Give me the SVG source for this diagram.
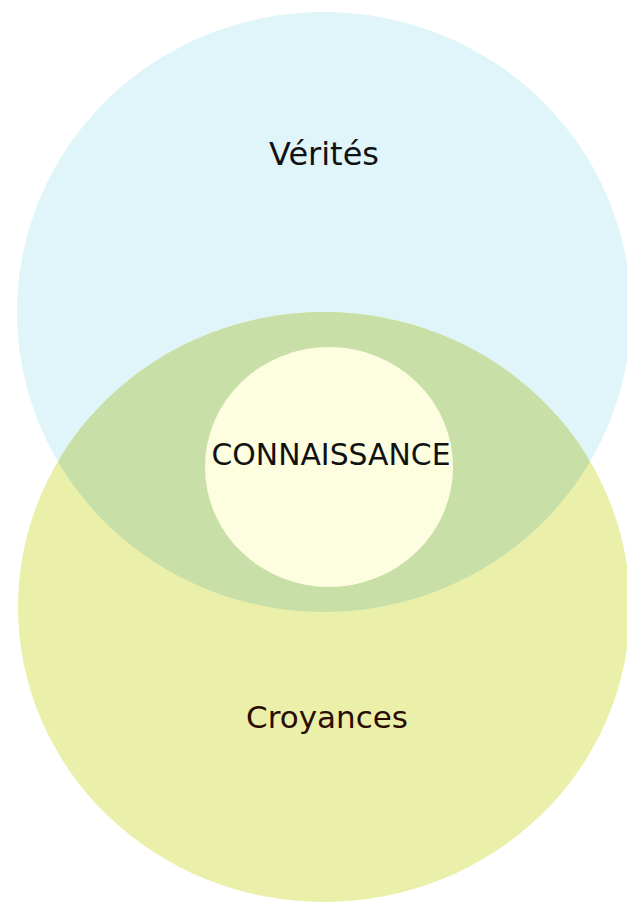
<svg xmlns="http://www.w3.org/2000/svg" width="627" height="907" viewBox="0 0 627 907">
<style>
.lbl{font-family:"DejaVu Sans","Liberation Sans",sans-serif;text-anchor:middle}
</style>
<defs>
<clipPath id="blueClip"><ellipse cx="324" cy="312" rx="307" ry="300"/></clipPath>
</defs>
<rect width="627" height="907" fill="#ffffff"/>
<g id="verites">
<ellipse cx="324" cy="312" rx="307" ry="300" fill="#e0f5fa"/>
<text class="lbl" x="324" y="165" font-size="32" fill="#111111">Vérités</text>
</g>
<g id="croyances">
<ellipse cx="324" cy="607" rx="306" ry="295" fill="#eaf0aa"/>
<text class="lbl" x="327" y="728" font-size="31" fill="#2a0c02">Croyances</text>
</g>
<g id="intersection">
<ellipse cx="324" cy="607" rx="306" ry="295" fill="#c9dfa8" clip-path="url(#blueClip)"/>
</g>
<g id="connaissance">
<ellipse cx="329" cy="467" rx="124" ry="120" fill="#fdfddf"/>
<text class="lbl" x="331" y="465" font-size="30" fill="#111111" textLength="239" lengthAdjust="spacingAndGlyphs">CONNAISSANCE</text>
</g>
<g id="connectors"/>
</svg>
